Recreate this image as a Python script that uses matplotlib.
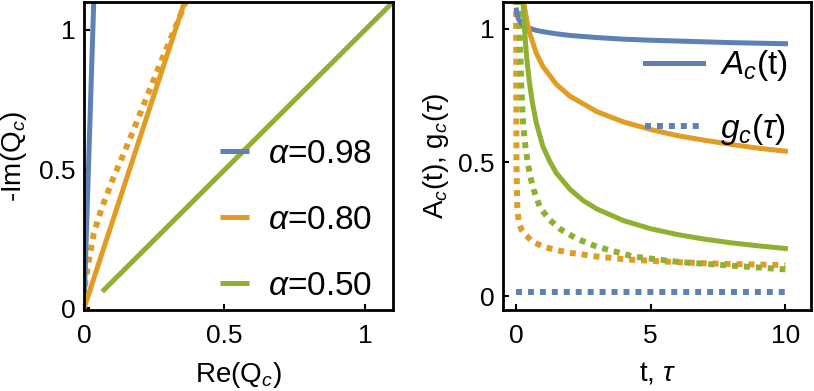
import matplotlib
matplotlib.use("Agg")
import matplotlib.pyplot as plt

plt.rcParams['font.family'] = ['Liberation Sans', 'DejaVu Sans']
plt.rcParams['mathtext.fontset'] = 'custom'
plt.rcParams['mathtext.rm'] = 'Liberation Sans'
plt.rcParams['mathtext.it'] = 'Liberation Sans:italic'
plt.rcParams['mathtext.bf'] = 'Liberation Sans:bold'

blue = '#5E81B5'
orange = '#E19C24'
green = '#8FB032'

# ---- left panel data: -Im(Q_c) vs Re(Q_c)
alpha_labels = [r'$\alpha$=0.98', r'$\alpha$=0.80', r'$\alpha$=0.50']
re_098 = [0.0, 0.04]
im_098 = [0.0, 1.27]
re_080 = [0.0, 0.40]
im_080 = [0.0, 1.23]
re_050 = [0.065, 1.15]
im_050 = [0.06, 1.15]
re_080_dot = [0.003, 0.015, 0.035, 0.063, 0.105, 0.16, 0.22, 0.28, 0.33, 0.37]
im_080_dot = [0.08, 0.16, 0.27, 0.36, 0.47, 0.60, 0.75, 0.90, 1.02, 1.12]

# ---- right panel data: A_c(t) (solid) and g_c(tau) (dotted)
t_blue = [0.02, 0.05, 0.1, 0.2, 0.35, 0.5, 0.75, 1, 1.5, 2, 3, 4, 5, 6, 7, 8, 9, 10]
A_blue = [1.07, 1.05, 1.035, 1.021, 1.01, 1.002, 0.994, 0.989, 0.981, 0.975,
          0.967, 0.961, 0.957, 0.954, 0.951, 0.948, 0.946, 0.944]
t_orange = [0.25, 0.3, 0.4, 0.5, 0.75, 1, 1.5, 2, 3, 4, 5, 6, 7, 8, 9, 10]
A_orange = [1.13, 1.093, 1.032, 0.987, 0.910, 0.859, 0.792, 0.748, 0.690,
            0.651, 0.623, 0.600, 0.583, 0.567, 0.553, 0.542]
t_green = [0.26, 0.3, 0.35, 0.4, 0.5, 0.6, 0.75, 1, 1.25, 1.5, 2, 2.5, 3, 4, 5, 6, 7, 8, 9, 10]
A_green = [1.11, 1.03, 0.955, 0.89, 0.80, 0.73, 0.65, 0.56, 0.505, 0.46, 0.40,
           0.357, 0.326, 0.282, 0.252, 0.23, 0.213, 0.199, 0.188, 0.178]

tau_blue = [0.0, 10]
g_blue = [0.016, 0.016]
tau_orange = [0.0, 0.02, 0.05, 0.1, 0.2, 0.35, 0.6, 1, 1.5, 2, 3, 4, 5, 6, 7, 8, 9, 10]
g_orange = [1.2, 0.5, 0.33, 0.28, 0.25, 0.23, 0.205, 0.185, 0.172, 0.162,
            0.148, 0.138, 0.132, 0.127, 0.123, 0.12, 0.118, 0.116]
tau_green = [0.1, 0.15, 0.2, 0.27, 0.35, 0.45, 0.55, 0.65, 0.9, 1.25, 1.65,
             2.25, 3.0, 4.35, 6.1, 8.0, 10]
g_green = [1.2, 0.95, 0.78, 0.64, 0.56, 0.49, 0.44, 0.40, 0.33, 0.285, 0.25,
           0.215, 0.185, 0.148, 0.127, 0.114, 0.1]

left_ticks = [0, 0.5, 1]
left_ticklabels = ['0', '0.5', '1']
right_xticks = [0, 5, 10]
right_xticklabels = ['0', '5', '10']
right_yticks = [0, 0.5, 1]
right_yticklabels = ['0', '0.5', '1']

fig = plt.figure(figsize=(8.14, 3.91), dpi=100)
ax1 = fig.add_axes([84 / 814, 81 / 391, 309 / 814, 308 / 391])
ax2 = fig.add_axes([503 / 814, 81 / 391, 308 / 814, 308 / 391])

lw = 3.6
dot = (0, (1, 1))

# left panel
ax1.plot(re_080_dot, im_080_dot, color=orange, lw=4.3, linestyle=dot)
l1, = ax1.plot(re_098, im_098, color=blue, lw=lw, solid_capstyle='butt')
l2, = ax1.plot(re_080, im_080, color=orange, lw=lw, solid_capstyle='butt')
l3, = ax1.plot(re_050, im_050, color=green, lw=lw, solid_capstyle='butt')
ax1.set_xlim(0, 1.10)
ax1.set_ylim(-0.006, 1.10)
ax1.set_xticks(left_ticks)
ax1.set_xticklabels(left_ticklabels)
ax1.set_yticks(left_ticks)
ax1.set_yticklabels(left_ticklabels)
ax1.set_xlabel('Re(Q$_c$)', fontsize=20, labelpad=9)
ax1.set_ylabel('-Im(Q$_c$)', fontsize=20, labelpad=7)
ax1.legend([l1, l2, l3], alpha_labels, loc='upper left', bbox_to_anchor=(0.44, 0.555),
           frameon=False, fontsize=24, handlelength=0.88, handletextpad=0.55,
           labelspacing=1.05, borderpad=0, borderaxespad=0)

# right panel
ax2.plot(tau_blue, g_blue, color=blue, lw=4.3, linestyle=dot)
ax2.plot(tau_orange, g_orange, color=orange, lw=4.3, linestyle=dot)
ax2.plot(tau_green, g_green, color=green, lw=4.3, linestyle=dot)
la, = ax2.plot(t_blue, A_blue, color=blue, lw=lw)
ax2.plot(t_orange, A_orange, color=orange, lw=lw)
ax2.plot(t_green, A_green, color=green, lw=lw)
ax2.set_xlim(-0.48, 10.95)
ax2.set_ylim(-0.052, 1.10)
ax2.set_xticks(right_xticks)
ax2.set_xticklabels(right_xticklabels)
ax2.set_yticks(right_yticks)
ax2.set_yticklabels(right_yticklabels)
ax2.set_xlabel(r't, $\tau$', fontsize=20, labelpad=9)
ax2.set_ylabel(r'A$_c$(t), g$_c$($\tau$)', fontsize=20, labelpad=5)
lg, = ax2.plot([], [], color=blue, lw=4.3, linestyle=dot)
ax2.legend([la, lg], [r'$A_c$(t)', r'$g_c(\tau)$'], loc='upper left',
           bbox_to_anchor=(0.46, 0.85), frameon=False, fontsize=24,
           handlelength=1.75, handletextpad=0.5, labelspacing=0.85,
           borderpad=0, borderaxespad=0)

for ax in (ax1, ax2):
    for s in ax.spines.values():
        s.set_linewidth(2.0)
    ax.tick_params(direction='in', length=4, width=1.5, labelsize=19)
    ax.tick_params(axis='x', pad=10)
    ax.tick_params(axis='y', pad=6)

fig.savefig('out.png', dpi=100)
